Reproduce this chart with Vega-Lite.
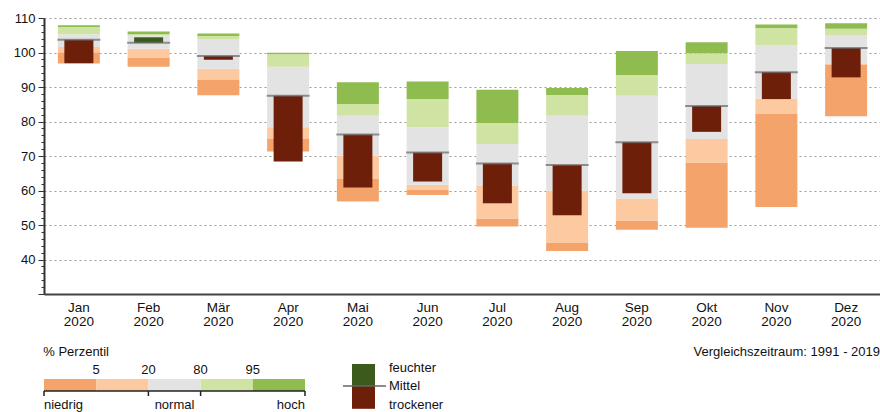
{
  "$schema": "https://vega.github.io/schema/vega-lite/v6.json",
  "background": "white",
  "padding": {"left": 13, "top": 12, "right": 0, "bottom": 0},
  "config": {"view": {"stroke": null}, "font": "Liberation Sans"},
  "resolve": {"scale": {"color": "independent"}},
  "spacing": 18,
  "vconcat": [
    {
      "width": 837,
      "height": 276,
      "data": {"values": [
        {"month": "Jan 2020", "min": 96.8, "p5": 100.1, "p20": 101.6, "p80": 105.3, "p95": 107.4, "max": 107.9, "mean": 103.7, "current": 96.9},
        {"month": "Feb 2020", "min": 95.9, "p5": 98.4, "p20": 101.1, "p80": 104.9, "p95": 105.3, "max": 106.1, "mean": 102.8, "current": 104.4},
        {"month": "Mär 2020", "min": 87.6, "p5": 92.0, "p20": 95.3, "p80": 103.8, "p95": 104.8, "max": 105.5, "mean": 99.0, "current": 97.9},
        {"month": "Apr 2020", "min": 71.3, "p5": 74.9, "p20": 78.3, "p80": 95.9, "p95": 99.5, "max": 99.9, "mean": 87.5, "current": 68.4},
        {"month": "Mai 2020", "min": 56.8, "p5": 63.3, "p20": 70.1, "p80": 81.7, "p95": 85.1, "max": 91.4, "mean": 76.2, "current": 60.9},
        {"month": "Jun 2020", "min": 58.7, "p5": 60.3, "p20": 61.7, "p80": 78.3, "p95": 86.5, "max": 91.6, "mean": 71.0, "current": 62.6},
        {"month": "Jul 2020", "min": 49.6, "p5": 51.9, "p20": 61.3, "p80": 73.5, "p95": 79.6, "max": 89.2, "mean": 67.8, "current": 56.3},
        {"month": "Aug 2020", "min": 42.5, "p5": 44.8, "p20": 60.0, "p80": 81.7, "p95": 87.7, "max": 89.7, "mean": 67.4, "current": 52.8},
        {"month": "Sep 2020", "min": 48.6, "p5": 51.2, "p20": 57.7, "p80": 87.5, "p95": 93.5, "max": 100.4, "mean": 74.0, "current": 59.2},
        {"month": "Okt 2020", "min": 49.2, "p5": 68.1, "p20": 74.9, "p80": 96.7, "p95": 99.8, "max": 103.0, "mean": 84.5, "current": 77.0},
        {"month": "Nov 2020", "min": 55.2, "p5": 82.2, "p20": 86.7, "p80": 102.0, "p95": 107.1, "max": 108.1, "mean": 94.3, "current": 86.5},
        {"month": "Dez 2020", "min": 81.5, "p5": 96.4, "p20": 96.8, "p80": 105.1, "p95": 106.9, "max": 108.5, "mean": 101.3, "current": 92.8}
      ]},
      "encoding": {
        "x": {
          "field": "month", "type": "nominal", "sort": null,
          "scale": {"paddingInner": 0, "paddingOuter": 0},
          "axis": {
            "title": null, "labelAngle": 0, "ticks": false,
            "labelExpr": "split(datum.label, ' ')",
            "labelFontSize": 13.5, "labelLineHeight": 14, "labelColor": "#111", "labelPadding": 6,
            "domainColor": "#444", "domainWidth": 2
          }
        }
      },
      "layer": [
        {
          "mark": {"type": "bar", "size": 42, "color": "#f4a36b"},
          "encoding": {
            "y": {
              "field": "min", "type": "quantitative",
              "scale": {"domain": [30, 110], "nice": false, "zero": false},
              "axis": {
                "title": null,
                "values": [30,32,34,36,38,40,42,44,46,48,50,52,54,56,58,60,62,64,66,68,70,72,74,76,78,80,82,84,86,88,90,92,94,96,98,100,102,104,106,108,110],
                "tickCount": 100,
                "labelExpr": "datum.value % 10 === 0 && datum.value >= 40 ? datum.label : ''",
                "labelOverlap": false, "labelFontSize": 13, "labelColor": "#111", "labelPadding": 3,
                "tickSize": {"condition": {"test": "datum.value % 10 === 0", "value": 6}, "value": 3},
                "tickColor": "#333", "domainColor": "#333", "domainWidth": 2,
                "grid": true, "gridDash": [2, 3], "gridColor": "#9a9a9a",
                "gridOpacity": {"condition": {"test": "datum.value % 10 === 0 && datum.value >= 40", "value": 1}, "value": 0}
              }
            },
            "y2": {"field": "p5"}
          }
        },
        {
          "mark": {"type": "bar", "size": 42, "color": "#fcc9a0"},
          "encoding": {"y": {"field": "p5", "type": "quantitative", "title": null}, "y2": {"field": "p20"}}
        },
        {
          "mark": {"type": "bar", "size": 42, "color": "#e3e3e3"},
          "encoding": {"y": {"field": "p20", "type": "quantitative", "title": null}, "y2": {"field": "p80"}}
        },
        {
          "mark": {"type": "bar", "size": 42, "color": "#cfe3a3"},
          "encoding": {"y": {"field": "p80", "type": "quantitative", "title": null}, "y2": {"field": "p95"}}
        },
        {
          "mark": {"type": "bar", "size": 42, "color": "#8fbc4f"},
          "encoding": {"y": {"field": "p95", "type": "quantitative", "title": null}, "y2": {"field": "max"}}
        },
        {
          "mark": {"type": "bar", "size": 29},
          "encoding": {
            "y": {"field": "mean", "type": "quantitative", "title": null},
            "y2": {"field": "current"},
            "color": {"condition": {"test": "datum.current > datum.mean", "value": "#3b5a1c"}, "value": "#6e1f0a"}
          }
        },
        {
          "mark": {"type": "tick", "size": 43, "thickness": 2, "color": "#666666"},
          "encoding": {"y": {"field": "mean", "type": "quantitative", "title": null}}
        }
      ]
    },
    {
      "spacing": 36,
      "hconcat": [
        {
          "width": 261,
          "height": 48,
          "title": {"text": "% Perzentil", "anchor": "start", "fontSize": 13, "fontWeight": "normal", "offset": 3, "color": "#111"},
          "layer": [
            {
              "data": {"values": [
                {"band": "unter 5", "lo": 0, "hi": 1},
                {"band": "5 - 20", "lo": 1, "hi": 2},
                {"band": "20 - 80", "lo": 2, "hi": 3},
                {"band": "80 - 95", "lo": 3, "hi": 4},
                {"band": "über 95", "lo": 4, "hi": 5}
              ]},
              "mark": "rect",
              "encoding": {
                "x": {"field": "lo", "type": "quantitative", "scale": {"domain": [0, 5], "nice": false, "zero": false}, "axis": null},
                "x2": {"field": "hi"},
                "y": {"datum": 7.75, "type": "quantitative", "scale": {"domain": [0, 12], "nice": false, "zero": false}, "axis": null},
                "y2": {"datum": 4.75},
                "color": {"field": "band", "type": "nominal", "legend": null,
                  "scale": {"domain": ["unter 5", "5 - 20", "20 - 80", "80 - 95", "über 95"], "range": ["#f4a36b", "#fcc9a0", "#e3e3e3", "#cfe3a3", "#8fbc4f"]}}
              }
            },
            {
              "data": {"values": [{"from": 0, "to": 5}]},
              "mark": {"type": "rule", "color": "#222", "strokeWidth": 1.5},
              "encoding": {
                "x": {"field": "from", "type": "quantitative"},
                "x2": {"field": "to"},
                "y": {"datum": 4.75, "type": "quantitative"}
              }
            },
            {
              "data": {"values": [{"pos": 0}, {"pos": 2}, {"pos": 3}, {"pos": 5}]},
              "mark": {"type": "rule", "color": "#222", "strokeWidth": 1.5},
              "encoding": {
                "x": {"field": "pos", "type": "quantitative"},
                "y": {"datum": 4.75, "type": "quantitative"},
                "y2": {"datum": 3.5}
              }
            },
            {
              "data": {"values": [{"pos": 1, "label": "5"}, {"pos": 2, "label": "20"}, {"pos": 3, "label": "80"}, {"pos": 4, "label": "95"}]},
              "mark": {"type": "text", "fontSize": 13, "align": "center", "baseline": "middle", "color": "#111"},
              "encoding": {
                "x": {"field": "pos", "type": "quantitative"},
                "y": {"datum": 10, "type": "quantitative"},
                "text": {"field": "label"}
              }
            },
            {
              "data": {"values": [{"pos": 0, "label": "niedrig"}]},
              "mark": {"type": "text", "fontSize": 13, "align": "left", "baseline": "middle", "color": "#111"},
              "encoding": {"x": {"field": "pos", "type": "quantitative"}, "y": {"datum": 1.35, "type": "quantitative"}, "text": {"field": "label"}}
            },
            {
              "data": {"values": [{"pos": 2.5, "label": "normal"}]},
              "mark": {"type": "text", "fontSize": 13, "align": "center", "baseline": "middle", "color": "#111"},
              "encoding": {"x": {"field": "pos", "type": "quantitative"}, "y": {"datum": 1.35, "type": "quantitative"}, "text": {"field": "label"}}
            },
            {
              "data": {"values": [{"pos": 5, "label": "hoch"}]},
              "mark": {"type": "text", "fontSize": 13, "align": "right", "baseline": "middle", "color": "#111"},
              "encoding": {"x": {"field": "pos", "type": "quantitative"}, "y": {"datum": 1.35, "type": "quantitative"}, "text": {"field": "label"}}
            }
          ]
        },
        {
          "width": 100,
          "height": 48,
          "layer": [
            {
              "data": {"values": [{"label": "feuchter"}]},
              "mark": {"type": "rect", "color": "#3b5a1c"},
              "encoding": {
                "x": {"datum": 0.9, "type": "quantitative", "scale": {"domain": [0, 10], "nice": false, "zero": false}, "axis": null},
                "x2": {"datum": 3.2},
                "y": {"datum": 11.5, "type": "quantitative", "scale": {"domain": [0, 12], "nice": false, "zero": false}, "axis": null},
                "y2": {"datum": 6}
              }
            },
            {
              "data": {"values": [{"label": "trockener"}]},
              "mark": {"type": "rect", "color": "#6e1f0a"},
              "encoding": {
                "x": {"datum": 0.9, "type": "quantitative"},
                "x2": {"datum": 3.2},
                "y": {"datum": 6, "type": "quantitative"},
                "y2": {"datum": 0.3}
              }
            },
            {
              "data": {"values": [{"label": "Mittel"}]},
              "mark": {"type": "rule", "color": "#666666", "strokeWidth": 1.5},
              "encoding": {
                "x": {"datum": 0, "type": "quantitative"},
                "x2": {"datum": 4.3},
                "y": {"datum": 6, "type": "quantitative"}
              }
            },
            {
              "data": {"values": [{"label": "feuchter"}]},
              "mark": {"type": "text", "fontSize": 13, "align": "left", "baseline": "middle", "color": "#111"},
              "encoding": {"x": {"datum": 4.6, "type": "quantitative"}, "y": {"datum": 10.4, "type": "quantitative"}, "text": {"field": "label"}}
            },
            {
              "data": {"values": [{"label": "Mittel"}]},
              "mark": {"type": "text", "fontSize": 13, "align": "left", "baseline": "middle", "color": "#111"},
              "encoding": {"x": {"datum": 4.6, "type": "quantitative"}, "y": {"datum": 6, "type": "quantitative"}, "text": {"field": "label"}}
            },
            {
              "data": {"values": [{"label": "trockener"}]},
              "mark": {"type": "text", "fontSize": 13, "align": "left", "baseline": "middle", "color": "#111"},
              "encoding": {"x": {"datum": 4.6, "type": "quantitative"}, "y": {"datum": 1.35, "type": "quantitative"}, "text": {"field": "label"}}
            }
          ]
        },
        {
          "width": 400,
          "height": 48,
          "title": {"text": "Vergleichszeitraum: 1991 - 2019", "anchor": "end", "fontSize": 13, "fontWeight": "normal", "offset": 3, "color": "#111"},
          "data": {"values": [{"label": ""}]},
          "mark": {"type": "text", "fontSize": 1},
          "encoding": {"text": {"field": "label"}}
        }
      ]
    }
  ]
}
